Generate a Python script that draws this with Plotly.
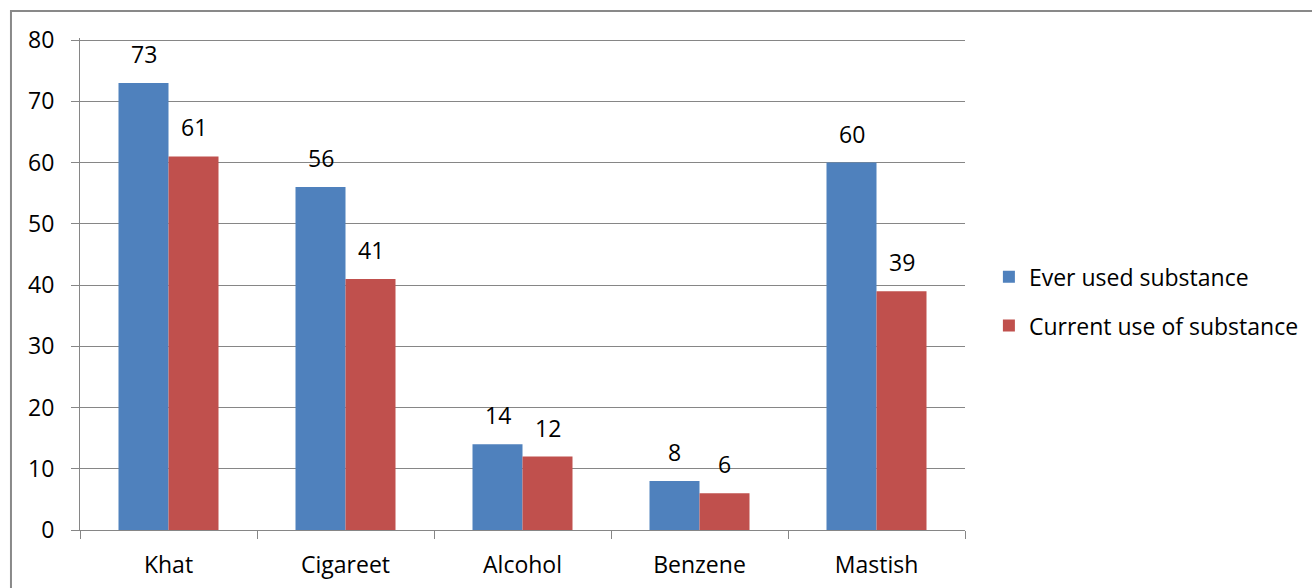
import plotly.graph_objects as go

categories = ["Khat", "Cigareet", "Alcohol", "Benzene", "Mastish"]
ever_used = [73, 56, 14, 8, 60]
current_use = [61, 41, 12, 6, 39]
series_names = ["Ever used substance", "Current use of substance"]
y_ticks = [0, 10, 20, 30, 40, 50, 60, 70, 80]

FONT = "Open Sans"
BLUE = "#4F81BD"
RED = "#C0504D"
GRID = "#868686"
FS = 23

fig = go.Figure()
fig.add_trace(go.Bar(x=categories, y=ever_used, name=series_names[0],
                     marker=dict(color=BLUE, line=dict(width=0)), legendgroup="a"))
fig.add_trace(go.Bar(x=categories, y=current_use, name=series_names[1],
                     marker=dict(color=RED, line=dict(width=0)), legendgroup="b"))

annotations = []
for vals, shift in ((ever_used, -25), (current_use, 25)):
    for c, v in zip(categories, vals):
        annotations.append(dict(x=c, y=v, xref="x", yref="y", text=str(v),
                                showarrow=False, xshift=shift, yshift=11,
                                yanchor="bottom",
                                font=dict(family=FONT, size=FS, color="black")))

fig.update_layout(
    width=1312, height=588,
    margin=dict(l=80, r=347, t=38, b=58, autoexpand=False),
    paper_bgcolor="white", plot_bgcolor="white",
    barmode="group", bargap=0.435, bargroupgap=0,
    font=dict(family=FONT, size=FS, color="black"),
    legend=dict(x=1.027, y=0.465, xanchor="left", yanchor="middle",
                font=dict(family=FONT, size=FS, color="black"),
                traceorder="grouped", tracegroupgap=16,
                itemwidth=30),
    annotations=annotations,
    shapes=[dict(type="path", xref="paper", yref="paper",
                 path="M -0.078,-0.3 L -0.078,1.0549 L 1.6,1.0549",
                 line=dict(color="#898989", width=2))],
)
fig.update_xaxes(showline=True, linecolor=GRID, linewidth=1,
                 ticks="outside", tickson="boundaries", ticklen=8,
                 tickcolor=GRID, showgrid=False, ticklabelstandoff=14,
                 tickfont=dict(family=FONT, size=FS, color="black"))
fig.update_yaxes(range=[0, 80.33], tickvals=y_ticks, showline=True,
                 linecolor=GRID, linewidth=1, ticks="outside", ticklen=8,
                 tickcolor=GRID, showgrid=True, gridcolor=GRID, gridwidth=1,
                 zeroline=False, ticklabelstandoff=12,
                 tickfont=dict(family=FONT, size=FS, color="black"))

fig.write_html("out.html")
